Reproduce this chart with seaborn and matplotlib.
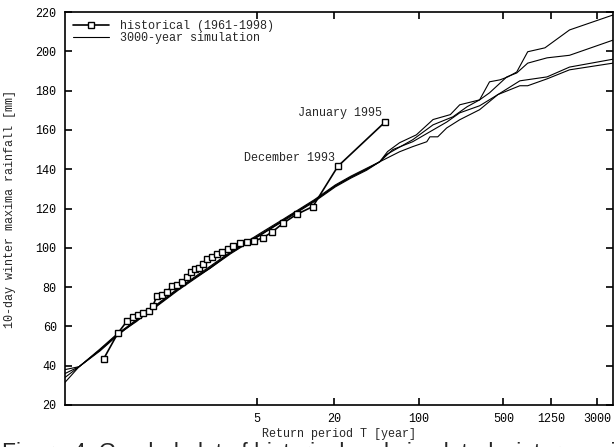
import numpy as np
import matplotlib
matplotlib.use("Agg")
import matplotlib.pyplot as plt
import seaborn as sns

# historical series (Gumbel reduced variate, rainfall mm)
hist_u = [-1.43, -1.16, -0.99, -0.87, -0.78, -0.68, -0.57, -0.49, -0.41, -0.32,
          -0.22, -0.13, -0.03, 0.07, 0.16, 0.24, 0.31, 0.39, 0.47, 0.54,
          0.64, 0.74, 0.83, 0.95, 1.04, 1.17, 1.31, 1.44, 1.61, 1.79,
          2.00, 2.26, 2.57, 3.05, 3.95]
hist_mm = [43.5, 56.5, 62.5, 65.0, 66.0, 67.0, 68.0, 70.5, 75.5, 76.0,
           77.5, 80.5, 81.0, 82.5, 85.0, 87.5, 89.0, 89.5, 92.0, 94.5,
           95.5, 97.0, 98.0, 99.5, 101.0, 102.5, 103.0, 103.5, 105.0, 108.0,
           112.5, 117.0, 121.0, 141.5, 164.0]

# simulated series, common lower part + individual upper tails
low_u = [-1.9, -1.5, -1.16, -0.8, -0.5, -0.2, 0.0, 0.3, 0.6, 1.0, 1.3, 1.6,
         2.0, 2.3, 2.6, 3.0, 3.3, 3.6, 3.85]
sim1_low = [39.5, 48.0, 56.0, 63.5, 69.5, 75.5, 79.5, 85.0, 90.5, 98.0, 103.0, 108.0,
            114.5, 119.5, 124.5, 132.0, 136.5, 140.5, 143.8]
sim2_low = [39.5, 48.5, 56.5, 63.0, 69.0, 75.0, 79.0, 84.5, 90.0, 97.5, 102.5, 107.5,
            114.0, 119.0, 124.0, 131.5, 136.0, 140.0, 143.8]
sim3_low = [39.5, 47.5, 55.5, 63.0, 68.5, 74.5, 78.5, 84.0, 89.5, 97.0, 102.0, 107.0,
            113.5, 118.5, 123.5, 131.0, 135.5, 139.5, 143.8]
sim4_low = [39.5, 48.0, 56.0, 62.5, 69.0, 75.0, 79.0, 84.5, 89.5, 97.5, 102.5, 107.0,
            114.0, 119.0, 124.0, 131.5, 136.0, 140.0, 143.8]

sim1_start = 38.0
sim2_start = 36.0
sim3_start = 34.0
sim4_start = 31.5

sim1_hi_u = [4.0, 4.23, 4.55, 4.87, 5.2, 5.38, 5.76, 5.95, 6.15, 6.3, 6.47, 6.68, 7.01, 7.48, 8.31]
sim1_hi = [149.0, 153.5, 157.5, 165.3, 167.8, 172.8, 175.3, 184.5, 185.5, 187.0, 189.5, 199.8, 201.8, 210.9, 218.5]
sim2_hi_u = [3.98, 4.48, 4.87, 5.25, 5.52, 5.76, 5.95, 6.28, 6.47, 6.68, 7.05, 7.48, 8.31]
sim2_hi = [147.5, 155.0, 162.6, 166.7, 171.8, 175.3, 178.9, 187.0, 189.0, 194.0, 196.7, 198.0, 205.7]
sim3_hi_u = [4.1, 4.48, 4.87, 5.13, 5.38, 5.76, 6.11, 6.53, 7.05, 7.48, 8.31]
sim3_hi = [150.0, 154.0, 160.0, 164.0, 168.7, 172.3, 178.0, 185.0, 187.0, 192.0, 196.0]
sim4_hi_u = [4.23, 4.48, 4.75, 4.81, 4.96, 5.13, 5.38, 5.76, 6.11, 6.53, 6.68, 7.05, 7.48, 8.31]
sim4_hi = [148.9, 151.5, 154.0, 156.5, 156.5, 161.0, 165.2, 170.3, 178.0, 182.5, 182.5, 186.0, 190.6, 194.0]

x_left = -2.17
x_right = 8.31

return_periods = [5, 20, 100, 500, 1250, 3000]
y_ticks = [20, 40, 60, 80, 100, 120, 140, 160, 180, 200, 220]

sns.set_style("ticks")
mono = ["Liberation Mono", "DejaVu Sans Mono"]
plt.rcParams["font.family"] = mono

fig = plt.figure(figsize=(6.16, 4.47), dpi=100)
ax = fig.add_axes([0.1055, 0.094, 0.8895, 0.879])

sims = [(sim1_start, sim1_low, sim1_hi_u, sim1_hi),
        (sim2_start, sim2_low, sim2_hi_u, sim2_hi),
        (sim3_start, sim3_low, sim3_hi_u, sim3_hi),
        (sim4_start, sim4_low, sim4_hi_u, sim4_hi)]
for i, (s0, lo, hu, hv) in enumerate(sims):
    xs = [x_left] + low_u + hu
    ys = [s0] + lo + hv
    sns.lineplot(x=xs, y=ys, ax=ax, color="black", lw=0.8, sort=False,
                 estimator=None, label="3000-year simulation" if i == 0 else None)

sns.lineplot(x=hist_u, y=hist_mm, ax=ax, color="black", lw=1.2, sort=False,
             estimator=None, marker="s", markersize=5, markerfacecolor="white",
             markeredgecolor="black", markeredgewidth=1.0,
             label="historical (1961-1998)")

ax.annotate("January 1995", (hist_u[-1], hist_mm[-1]), xytext=(-2, 2),
            textcoords="offset points", ha="right", va="bottom", fontsize=8.5)
ax.annotate("December 1993", (hist_u[-2], hist_mm[-2]), xytext=(-2, 2),
            textcoords="offset points", ha="right", va="bottom", fontsize=8.5)

tick_pos = [-np.log(-np.log(1 - 1 / t)) for t in return_periods]
ax.set_xticks(tick_pos)
ax.set_xticklabels([str(t) for t in return_periods])
ax.set_yticks(y_ticks)
ax.set_xlim(x_left, x_right)
ax.set_ylim(20, 220)
ax.tick_params(direction="in", top=True, right=True, length=5, width=1.2,
               labelsize=8.5, colors="black", pad=6)
for sp in ax.spines.values():
    sp.set_linewidth(1.2)
    sp.set_color("black")

ax.set_xlabel("Return period T [year]", fontsize=8.5, labelpad=2)
ax.set_ylabel("10-day winter maxima rainfall [mm]", fontsize=8.5, labelpad=14)

h, l = ax.get_legend_handles_labels()
order = [l.index("historical (1961-1998)"), l.index("3000-year simulation")]
ax.legend([h[k] for k in order], [l[k] for k in order], loc="upper left",
          frameon=False, fontsize=8.5, handlelength=3.0, borderaxespad=0.3,
          labelspacing=0.0, handletextpad=1.0)

# figure caption, clipped by the bottom edge as in the source page
fig.text(0.003, 1 - 442 / 447, "Figure 4: Gumbel plot of historical and simulated winter maxima",
         fontsize=16.5, va="top", ha="left", family=["Liberation Sans", "DejaVu Sans"])

fig.savefig("out.png", dpi=100)
